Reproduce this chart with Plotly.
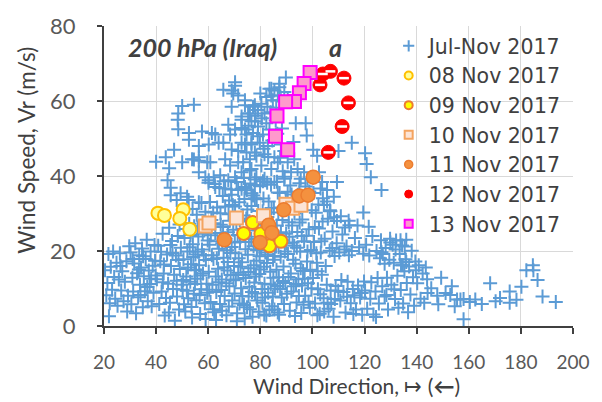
import plotly.graph_objects as go

# ---- Jul-Nov 2017 daily winds at 200 hPa: (direction deg, speed m/s) ----
jul_nov_points = [
    # directions 20-30
    (20.4,14.9),(20.9,8.2),(21.3,11.5),(21.7,19.2),(22.2,6.1),(22.6,15.8),(23.1,9.7),(23.5,19.9),
    (23.9,13.1),(24.3,7.3),(24.8,16.9),(25.2,5.4),(25.7,12.4),(26.1,19.4),(26.6,9.5),(27.0,14.6),
    (27.5,6.6),(28.0,11.8),(28.6,17.3),(29.2,8.1),(29.7,21.3),(28.9,3.9),(21.9,2.6),(26.3,16.0),
    # 30-40
    (30.2,19.6),(30.5,5.8),(30.9,12.9),(31.2,9.2),(31.6,16.7),(32.0,22.1),(32.3,3.4),(32.7,14.1),
    (33.1,7.7),(33.5,18.9),(33.8,11.0),(34.2,15.6),(34.6,20.7),(34.9,5.0),(35.3,13.3),(35.7,9.3),
    (36.0,17.9),(36.4,23.0),(36.8,6.6),(37.2,14.8),(37.5,11.2),(37.9,19.9),(38.3,5.3),(38.7,16.1),
    (39.0,8.9),(39.4,21.6),(39.8,13.5),(31.0,17.9),(33.4,15.1),(35.0,18.6),(36.6,10.4),(38.1,12.6),
    (39.6,17.4),(34.0,8.3),
    # 40-50
    (40.3,12.5),(40.8,21.4),(41.2,5.9),(41.6,17.3),(42.1,9.2),(42.5,24.6),(42.9,14.0),(43.3,2.8),
    (43.8,7.5),(44.2,19.1),(44.6,11.3),(45.0,26.2),(45.3,6.2),(45.7,16.0),(46.1,22.7),(46.5,9.9),
    (46.9,13.7),(47.2,1.4),(47.6,18.8),(48.0,7.9),(48.3,24.0),(48.8,4.4),(49.1,15.2),(49.5,20.9),
    (49.8,11.0),(41.9,19.8),(43.0,16.4),(44.9,3.6),(46.3,19.5),(47.9,12.1),(49.0,27.1),(42.6,11.7),
    (45.5,21.6),(48.6,17.6),
    # 50-60
    (50.2,9.7),(50.5,17.8),(50.9,23.5),(51.2,3.9),(51.6,13.2),(52.0,19.9),(52.3,7.4),(52.7,27.3),
    (53.1,11.8),(53.4,16.5),(53.8,2.3),(54.1,21.8),(54.5,8.6),(54.8,14.9),(50.7,5.8),(51.4,25.9),
    (52.2,15.6),(52.9,21.0),(53.6,5.1),(54.3,18.4),(54.9,11.2),(50.4,12.3),(51.8,9.4),(53.2,24.3),
    (54.6,26.6),(55.1,19.1),(55.4,6.9),(55.8,12.6),(56.2,23.9),(56.5,16.2),(56.9,3.2),(57.3,9.8),
    (57.6,20.4),(58.0,14.0),(58.4,27.9),(58.7,6.1),(59.1,17.6),(59.4,11.3),(59.8,22.8),(55.6,29.7),
    (56.7,8.3),(57.9,24.6),(59.0,1.9),(55.3,15.0),(56.0,19.8),(57.1,13.5),(58.3,18.9),(59.6,8.9),
    (55.9,26.1),(58.9,30.5),(57.4,32.8),(54.0,31.2),(52.5,33.6),
    # 60-70
    (60.2,14.5),(60.5,21.7),(60.9,6.4),(61.2,28.3),(61.6,11.0),(62.0,17.9),(62.3,3.7),(62.7,24.8),
    (63.1,9.1),(63.4,31.6),(63.8,15.3),(64.1,20.6),(64.5,5.9),(64.8,27.0),(65.2,12.4),(65.6,34.7),
    (65.9,18.2),(66.3,8.0),(66.7,23.3),(67.0,2.9),(67.4,14.8),(67.8,29.8),(68.1,10.6),(68.5,19.5),
    (68.8,36.4),(69.2,6.8),(69.6,25.7),(69.9,16.0),(60.7,33.1),(61.4,18.9),(62.2,27.4),(62.9,13.2),
    (63.6,22.6),(64.3,36.8),(65.0,9.6),(65.7,26.4),(66.5,31.9),(67.2,20.2),(67.9,5.2),(68.6,13.6),
    (69.4,32.3),(60.4,9.7),(61.8,4.5),(63.3,18.1),(64.7,30.1),(66.1,15.7),(67.6,25.0),(69.0,21.1),
    (61.0,24.2),(62.5,37.9),(64.0,11.7),(65.4,22.1),(66.9,11.4),(68.3,28.1),(69.7,12.2),(63.0,1.6),
    (66.0,38.6),(60.1,38.2),(61.9,30.3),(68.0,33.5),(65.3,4.1),(67.5,17.1),
    # 70-80
    (70.1,8.7),(70.4,19.4),(70.8,27.6),(71.1,3.4),(71.5,14.2),(71.9,33.0),(72.2,22.5),(72.6,10.1),
    (73.0,17.0),(73.3,29.5),(73.7,5.6),(74.1,24.0),(74.4,12.8),(74.8,36.2),(75.2,19.0),(75.5,7.9),
    (75.9,27.9),(76.3,15.4),(76.6,32.0),(77.0,2.5),(77.4,21.3),(77.7,11.6),(78.1,25.5),(78.5,17.4),
    (78.8,6.8),(79.2,30.7),(79.6,13.9),(79.9,37.3),(70.6,12.4),(71.3,24.3),(72.0,6.0),(72.8,36.6),
    (73.5,13.6),(74.3,20.5),(75.0,31.1),(75.8,10.5),(76.5,23.2),(77.2,34.8),(78.0,8.7),(78.7,20.3),
    (79.4,3.8),(70.3,31.9),(71.7,18.1),(73.1,8.0),(74.6,28.7),(76.0,4.5),(77.5,16.2),(78.9,27.0),
    (70.9,38.4),(72.4,15.8),(73.9,33.9),(75.4,14.4),(76.8,9.1),(78.3,13.2),(79.7,18.6),(71.0,1.3),
    (74.0,2.0),(77.9,39.1),(76.2,38.0),(73.7,39.5),(72.1,28.3),(75.6,22.4),(79.0,23.8),(70.2,22.3),
    (74.9,5.0),(78.6,33.8),
    # 80-90
    (80.1,15.1),(80.5,26.1),(80.8,6.2),(81.2,34.0),(81.6,11.3),(81.9,19.6),(82.3,2.8),(82.7,29.1),
    (83.0,8.9),(83.4,23.0),(83.8,14.5),(84.1,37.7),(84.5,5.3),(84.9,17.7),(85.2,31.4),(85.6,10.0),
    (86.0,21.2),(86.3,26.8),(86.7,3.6),(87.1,13.0),(87.4,35.5),(87.8,18.5),(88.2,7.6),(88.5,28.3),
    (88.9,15.9),(89.3,39.8),(89.6,11.5),(80.3,20.7),(81.0,38.6),(81.8,7.6),(82.5,16.8),(83.2,33.2),
    (84.0,11.1),(84.7,25.4),(85.4,4.4),(86.2,15.0),(86.9,30.3),(87.6,9.9),(88.3,22.9),(89.1,5.9),
    (89.8,33.8),(80.7,9.9),(82.1,24.2),(83.5,4.3),(85.0,12.9),(86.4,38.5),(87.9,25.0),(89.4,19.9),
    (80.9,30.6),(82.9,19.0),(84.3,31.5),(85.8,24.4),(87.2,3.0),(88.7,12.0),(81.4,15.8),(83.6,27.2),
    (85.5,18.7),(88.0,31.6),(84.8,7.9),(86.6,10.7),(89.9,24.6),(81.5,3.1),(82.6,38.2),(87.0,21.0),
    (83.9,21.6),
    # 90-100
    (90.2,8.6),(90.6,19.2),(90.9,27.7),(91.3,4.1),(91.7,14.0),(92.0,35.1),(92.4,22.3),(92.8,10.6),
    (93.1,30.0),(93.5,16.6),(93.9,6.3),(94.2,25.1),(94.6,12.5),(95.0,38.1),(95.3,19.9),(95.7,3.5),
    (96.1,28.4),(96.4,14.7),(96.8,22.6),(97.2,8.1),(97.5,33.6),(97.9,17.2),(98.3,11.4),(98.6,25.8),
    (99.0,4.9),(99.4,20.3),(99.7,30.9),(90.4,31.3),(91.1,23.8),(91.9,9.2),(92.6,17.7),(93.3,2.7),
    (94.0,20.9),(94.8,8.0),(95.5,15.4),(96.2,33.5),(97.0,12.6),(97.7,24.1),(98.5,6.5),(99.2,15.0),
    (90.8,13.1),(92.2,26.8),(93.7,11.2),(95.1,27.6),(96.6,5.7),(98.1,19.9),(99.6,10.1),(91.5,37.5),
    (94.4,35.0),(97.3,37.2),(93.0,21.4),(96.0,10.8),(98.8,35.9),(90.0,22.0),(95.9,24.0),
    # 100-110
    (100.2,12.8),(100.6,22.4),(101.0,6.0),(101.3,30.2),(101.7,16.9),(102.1,9.8),(102.5,26.0),(102.8,3.3),
    (103.2,19.6),(103.6,13.7),(104.0,34.1),(104.3,7.4),(104.7,23.3),(105.1,16.0),(105.5,11.0),(105.9,28.6),
    (106.2,4.6),(106.6,20.1),(107.0,9.5),(107.7,25.2),(108.1,2.5),(108.5,18.7),(108.9,10.7),
    (109.3,22.1),(100.4,35.5),(101.5,19.4),(102.3,32.4),(103.0,8.5),(103.9,27.9),
    (105.8,6.2),(106.7,30.9),(107.6,20.8),(108.6,7.2),(100.9,26.4),(102.0,14.6),(103.4,22.6),
    (104.5,3.9),(107.2,5.9),(108.3,29.0),(109.9,9.4),(101.9,2.9),
    # 110-120
    (110.3,19.6),(110.7,6.8),(111.1,12.3),(111.5,24.4),(111.9,9.1),(112.3,20.4),(112.7,3.6),(113.1,21.2),
    (113.5,11.8),(113.9,28.1),(114.7,6.1),(115.1,20.0),(115.5,9.9),
    (116.3,23.5),(116.7,4.4),(117.5,10.8),(117.9,21.0),(118.3,7.6),(119.1,3.0),(119.5,19.3),
    (119.8,11.9),(110.9,29.3),(112.5,26.3),(114.0,18.9),(115.7,3.2),(117.3,26.8),(118.9,8.8),
    (116.1,8.2),(113.3,7.8),
    # 120-130
    (120.2,9.5),(120.6,21.7),(121.0,4.6),(121.8,18.8),(122.2,7.3),(122.6,11.7),(123.0,24.0),
    (123.4,3.1),(124.2,9.2),(124.6,20.0),(125.0,12.8),(125.5,6.0),(125.9,18.1),(126.3,22.9),
    (126.8,10.6),(127.7,7.9),(128.1,20.8),(128.6,12.9),(129.0,4.4),(129.5,17.7),(129.9,22.3),
    (121.6,26.5),(124.4,2.4),(127.0,19.2),(128.4,8.3),(126.5,19.7),(127.7,16.6),(129.8,23.3),
    # 130-140
    (130.3,11.0),(130.8,21.7),(131.2,16.9),(131.7,7.2),(132.1,22.8),(132.6,13.4),(133.0,4.9),(133.5,19.2),
    (133.9,9.6),(134.4,21.5),(134.8,6.0),(135.3,14.6),(135.7,17.8),(136.2,11.5),(136.7,3.7),(137.1,15.9),
    (137.6,8.4),(138.1,20.1),(138.6,13.0),(139.0,5.4),(139.5,17.2),(131.4,9.8),(134.0,16.2),(136.0,23.0),
    (131.9,20.4),(133.8,22.9),(135.4,21.2),(134.7,16.2),(136.0,17.1),(139.7,14.9),
    # 140 and beyond
    (140.2,11.4),(140.8,16.2),(141.5,7.3),(142.3,14.0),(142.9,6.2),(143.5,15.6),(144.0,12.5),(144.2,8.8),
    (145.6,10.1),(147.9,8.1),(148.3,5.8),(149.4,12.9),(151.1,8.8),(152.9,8.3),(154.6,5.3),(155.5,7.1),
    (156.8,7.1),(158.0,7.2),(158.0,1.8),(160.4,6.4),(162.5,7.1),(165.0,5.9),(168.2,11.4),(172.0,7.5),
    (175.7,9.2),(175.7,6.2),(178.3,7.0),(180.2,10.5),(182.1,14.9),(184.6,16.2),(184.8,14.9),(186.4,12.3),
    (188.3,7.9),(193.4,6.4),(153.5,10.6),(170.3,6.6),
    # stronger winds, 35-67 m/s
    (54.5,59.0),(50.0,58.7),(48.5,56.7),(48.3,55.0),(48.5,52.5),(52.6,51.5),(57.6,51.9),(46.9,47.0),
    (43.7,45.0),(40.0,43.8),(45.0,42.1),(50.0,43.7),(54.5,44.4),(56.4,44.1),(56.4,41.0),(58.9,39.7),
    (44.4,38.9),(45.6,36.9),(49.4,35.4),(51.9,34.5),(56.4,33.0),(60.8,43.7),(59.6,43.7),(56.4,45.0),
    (53.8,44.5),(52.6,49.7),(56.4,48.0),(60.2,48.4),(61.4,51.5),(45.6,34.9),(47.9,33.6),
    (70.3,65.0),(65.8,63.0),(69.6,62.0),(71.5,61.5),(69.0,58.5),(74.1,58.9),(77.2,58.5),(72.8,55.9),
    (76.0,56.7),(77.9,54.6),(67.7,53.7),(70.3,52.4),(72.8,52.8),(74.7,51.1),(68.4,51.1),(65.8,48.9),
    (62.7,51.1),(64.0,48.9),(69.0,47.1),(71.5,46.7),(74.1,48.4),(76.6,48.9),(77.9,46.3),(76.0,44.5),
    (71.5,43.7),(68.4,42.8),(66.5,44.5),(64.6,40.2),(62.1,39.7),(60.2,38.9),(62.7,37.1),(67.7,38.9),
    (70.3,39.7),(72.8,41.0),(76.0,41.5),(78.5,39.7),(74.1,37.1),(71.5,36.3),(69.0,35.0),(76.6,35.4),
    (77.9,34.1),(66.5,36.7),
    (89.8,66.3),(83.5,63.3),(85.4,62.8),(87.3,63.7),(84.2,61.5),(86.7,61.5),(89.2,62.4),(82.3,61.1),
    (84.8,60.2),(87.9,60.2),(90.5,60.6),(74.1,60.2),(77.9,58.9),(80.4,59.3),(79.1,57.6),(75.3,56.7),
    (81.6,56.7),(72.8,55.0),(76.6,54.6),(79.1,53.2),(82.3,54.1),(74.1,52.4),(77.2,51.5),(81.0,51.1),
    (83.5,52.4),(72.8,48.9),(76.6,48.4),(79.8,48.9),(82.9,48.0),(87.9,48.4),(89.2,46.7),(74.7,46.3),
    (78.5,45.4),(81.6,45.8),(85.4,45.0),(86.7,43.7),(90.5,43.7),(93.0,44.5),(94.3,41.9),(91.8,41.0),
    (88.6,41.3),(84.2,41.9),(80.4,42.8),(76.6,41.9),(73.4,43.7),(96.8,41.0),(98.1,39.3),(95.5,39.3),
    (89.2,39.3),(85.4,38.4),(81.6,39.3),(77.9,37.6),(74.1,36.7),(90.5,35.8),(86.7,35.6),(102.5,41.0),
    (103.7,38.4),(105.6,36.3),(108.2,34.5),(109.4,38.4),
    (70.3,64.1),(69.0,62.8),(84.2,63.3),(87.3,64.6),
    (80.6,55.4),(83.9,57.0),(85.9,54.8),(86.5,51.3),(84.6,49.5),(88.3,52.7),(81.2,47.3),(79.0,50.6),
    (86.1,58.2),(83.0,45.1),(87.6,44.9),(75.5,53.4),(78.2,56.1),(80.0,62.0),(82.7,58.5),
    (93.6,54.1),(97.4,54.1),(97.8,50.8),(92.7,49.1),(100.3,47.0),(101.8,45.4),(115.1,48.9),(110.0,46.7),
    (120.2,46.1),(120.8,43.2),(122.4,39.7),(126.5,36.3),(119.5,30.3),(114.2,26.9),(109.4,28.0),(106.9,30.6),
    (105.6,33.2),(103.1,36.7),(104.4,32.3),
]
jul_nov_dir = [p[0] for p in jul_nov_points]
jul_nov_speed = [p[1] for p in jul_nov_points]

# ---- individual days, November 2017 ----
nov08_dir = [40.7, 43.2, 50.4, 49.1, 52.9]
nov08_speed = [30.1, 29.5, 31.0, 28.7, 25.8]

nov09_dir = [73.6, 77.0, 80.2, 83.5, 87.9, 82.5]
nov09_speed = [24.7, 27.6, 24.6, 21.4, 22.6, 28.0]

nov10_dir = [58.9, 60.3, 70.8, 81.2, 89.8, 92.4, 95.6]
nov10_speed = [26.7, 27.5, 28.8, 29.4, 32.5, 31.4, 32.2]

nov11_dir = [66.2, 79.9, 83.2, 84.4, 89.0, 94.9, 98.3, 100.3]
nov11_speed = [23.0, 22.3, 26.9, 24.9, 31.0, 34.7, 34.9, 39.7]

nov12_dir = [106.9, 104.0, 102.9, 112.1, 113.8, 111.4, 106.1]
nov12_speed = [67.9, 67.2, 64.3, 66.1, 59.5, 53.2, 46.3]

nov13_dir = [99.1, 96.8, 95.0, 93.1, 89.7, 86.4, 85.8, 90.5]
nov13_speed = [67.6, 64.7, 62.2, 59.9, 59.8, 56.0, 50.6, 47.0]

series_names = ["Jul-Nov 2017", "08 Nov 2017", "09 Nov 2017", "10 Nov 2017",
                "11 Nov 2017", "12 Nov 2017", "13 Nov 2017"]

x_ticks = [20, 40, 60, 80, 100, 120, 140, 160, 180, 200]
y_ticks = [0, 20, 40, 60, 80]

BLUE = "#5B9BD5"
TITLE_COLOR = "#404040"

styles = [
    dict(symbol="cross-thin", color=BLUE, line=dict(color=BLUE, width=2)),
    dict(symbol="circle", color="#FFFF99", line=dict(color="#FFC000", width=2)),
    dict(symbol="circle", color="#FFFF00", line=dict(color="#ED7D31", width=2)),
    dict(symbol="square", color="#FCE4D6", line=dict(color="#F4A460", width=2)),
    dict(symbol="circle", color="#F4913F", line=dict(color="#EC7C30", width=1.5)),
    dict(symbol="circle", color="#FF0000", line=dict(color="#FF0000", width=1)),
    dict(symbol="square", color="#FF99CC", line=dict(color="#FF00FF", width=2)),
]

fig = go.Figure()

fig.add_trace(go.Scatter(
    x=jul_nov_dir, y=jul_nov_speed, mode="markers", showlegend=False,
    marker=dict(size=10, **styles[0])))

day_data = [
    (nov08_dir, nov08_speed, 13),
    (nov09_dir, nov09_speed, 13),
    (nov10_dir, nov10_speed, 13),
    (nov11_dir, nov11_speed, 14),
    (nov12_dir, nov12_speed, 14),
    (nov13_dir, nov13_speed, 13),
]
for i, (xs, ys, sz) in enumerate(day_data, start=1):
    fig.add_trace(go.Scatter(x=xs, y=ys, mode="markers", showlegend=False,
                             marker=dict(size=sz, **styles[i])))
    if i == 5:
        # white bar inside the 12 Nov markers
        fig.add_trace(go.Scatter(x=xs, y=ys, mode="markers", showlegend=False,
                                 hoverinfo="skip",
                                 marker=dict(symbol="line-ew", size=7,
                                             line=dict(color="white", width=2.5))))

# compact legend symbols
for name, st in zip(series_names, styles):
    fig.add_trace(go.Scatter(x=[None], y=[None], mode="markers", name=name,
                             marker=dict(size=8, **st)))

fig.update_layout(
    width=602, height=402,
    margin=dict(l=104, r=23, t=19, b=76),
    paper_bgcolor="white", plot_bgcolor="white",
    showlegend=True,
    legend=dict(x=0.607, y=1.0, xanchor="left", yanchor="top",
                bgcolor="rgba(0,0,0,0)",
                font=dict(family="DejaVu Sans", size=20.5, color=TITLE_COLOR),
                itemwidth=30),
    annotations=[
        dict(text="<b><i>200 hPa (Iraq)</i></b>", xref="paper", yref="paper",
             x=0.046, y=0.93, xanchor="left", yanchor="middle", showarrow=False,
             font=dict(family="Lato", size=25, color=TITLE_COLOR)),
        dict(text="<b><i>a</i></b>", xref="paper", yref="paper",
             x=0.493, y=0.93, xanchor="center", yanchor="middle", showarrow=False,
             font=dict(family="Lato", size=25, color=TITLE_COLOR)),
        dict(text="Wind Speed, Vr (m/s)", xref="paper", yref="paper",
             x=-0.166, y=0.585, xanchor="center", yanchor="middle", showarrow=False,
             textangle=-90, font=dict(family="Lato", size=22.5, color=TITLE_COLOR)),
        dict(text="Wind Direction, \u21a6 (<b>\u2190</b>)",
             xref="paper", yref="paper",
             x=0.539, y=-0.197, xanchor="center", yanchor="middle", showarrow=False,
             font=dict(family="Lato", size=21, color=TITLE_COLOR)),
    ],
)

fig.update_xaxes(range=[20, 200], tickvals=x_ticks, ticktext=[str(v) for v in x_ticks],
                 showgrid=True, gridcolor="#D9D9D9", gridwidth=1,
                 showline=True, linecolor="#404040", linewidth=2,
                 ticks="outside", ticklen=6, tickcolor="#404040", tickwidth=1.5,
                 tickfont=dict(family="Lato", size=19, color="#595959"),
                 ticklabelstandoff=12, zeroline=False)
fig.update_yaxes(range=[0, 80], tickvals=y_ticks, ticktext=[str(v) for v in y_ticks],
                 showgrid=True, gridcolor="#D9D9D9", gridwidth=1,
                 showline=True, linecolor="#404040", linewidth=2,
                 ticks="outside", ticklen=5, tickcolor="#404040", tickwidth=1.5,
                 tickfont=dict(family="Lato", size=22, color="#595959"),
                 ticklabelstandoff=17, zeroline=False)

fig.write_html("out.html")
